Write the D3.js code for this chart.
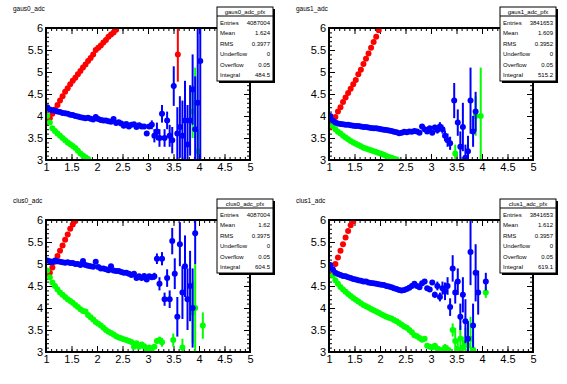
<!DOCTYPE html>
<html>
<head>
<meta charset="utf-8">
<script src="https://cdn.jsdelivr.net/npm/d3@7"></script>
<style>
  body { margin: 0; background: #fff; }
  text { font-family: "Liberation Sans", Arial, sans-serif; }
</style>
</head>
<body>
<div id="chart"></div>
<script>
const width = 567;
const height = 384;

// [x, y, err]
const gaus0Red = [[1.025,3.85],[1.075,3.95],[1.125,4.05],[1.175,4.15],[1.225,4.25],[1.275,4.35],[1.325,4.45],[1.375,4.55],[1.425,4.63],[1.475,4.72],[1.525,4.8],[1.575,4.87],[1.625,4.95],[1.675,5.02],[1.725,5.1],[1.775,5.17],[1.825,5.25],[1.875,5.32],[1.925,5.4],[1.975,5.5],[2.025,5.55],[2.075,5.6],[2.125,5.67],[2.175,5.73],[2.225,5.8],[2.275,5.85],[2.325,5.9],[2.375,5.96],[3.585,5.4,0.62]];
const gaus0Green = [[1.025,4.0],[1.075,3.85],[1.125,3.72],[1.175,3.66],[1.225,3.6],[1.275,3.55],[1.325,3.5],[1.375,3.45],[1.425,3.4],[1.475,3.36],[1.525,3.32],[1.575,3.27],[1.625,3.21],[1.675,3.15],[1.725,3.1],[1.775,3.06],[1.825,3.02],[3.875,4.1,0.6],[3.925,4.3,0.8],[3.975,3.2,0.5]];
const gaus0Blue = [[1.025,4.2],[1.075,4.15],[1.125,4.13],[1.175,4.12],[1.225,4.1],[1.275,4.09],[1.325,4.07],[1.375,4.06],[1.425,4.05],[1.475,4.03],[1.525,4.02],[1.575,4.0],[1.625,3.99],[1.675,3.97],[1.725,3.96],[1.775,3.95],[1.825,3.96],[1.875,3.94],[1.925,3.92],[1.975,3.98],[2.025,3.93],[2.075,3.91],[2.125,3.9],[2.175,3.9],[2.225,3.88],[2.275,3.87],[2.325,3.93],[2.375,3.84],[2.425,3.86],[2.475,3.83],[2.525,3.78],[2.575,3.82],[2.625,3.76],[2.675,3.8],[2.725,3.81],[2.775,3.75],[2.825,3.79],[2.875,3.76],[2.925,3.76],[2.975,3.6,0.04],[3.025,3.76,0.05],[3.075,3.8,0.1],[3.125,3.55,0.15],[3.175,3.65,0.2],[3.225,3.5,0.2],[3.275,4.05,0.2],[3.325,3.5,0.2],[3.375,3.9,0.2],[3.425,3.55,0.25],[3.475,3.45,0.3],[3.505,4.68,0.45],[3.575,3.6,0.6],[3.625,3.75,0.7],[3.675,3.55,0.8],[3.725,3.9,0.9],[3.775,3.35,0.9],[3.825,3.9,0.8],[3.875,4.6,0.8],[3.925,3.7,1.2],[3.975,4.3,2.0],[4.025,5.25,2.5]];

const gaus1Red = [[1.025,3.75],[1.075,3.85],[1.125,3.98],[1.175,4.1],[1.225,4.2],[1.275,4.32],[1.325,4.42],[1.375,4.52],[1.425,4.62],[1.475,4.72],[1.525,4.82],[1.575,4.95],[1.625,5.05],[1.675,5.18],[1.725,5.3],[1.775,5.42],[1.825,5.55],[1.875,5.68],[1.925,5.8],[1.975,5.95]];
const gaus1Green = [[1.025,3.9],[1.075,3.77],[1.125,3.7],[1.175,3.64],[1.225,3.6],[1.275,3.55],[1.325,3.51],[1.375,3.47],[1.425,3.43],[1.475,3.4],[1.525,3.37],[1.575,3.34],[1.625,3.31],[1.675,3.28],[1.725,3.26],[1.775,3.24],[1.825,3.22],[1.875,3.2],[1.925,3.18],[1.975,3.16],[2.025,3.14],[2.075,3.12],[2.125,3.09],[2.175,3.07],[2.225,3.05],[2.275,3.03],[2.325,3.01],[3.475,3.15,0.2],[3.875,4.0,0.45],[3.975,4.0,1.1]];
const gaus1Blue = [[1.025,4.0],[1.075,3.9],[1.125,3.85],[1.175,3.83],[1.225,3.82],[1.275,3.81],[1.325,3.8],[1.375,3.8],[1.425,3.79],[1.475,3.78],[1.525,3.77],[1.575,3.77],[1.625,3.76],[1.675,3.75],[1.725,3.75],[1.775,3.74],[1.825,3.73],[1.875,3.72],[1.925,3.72],[1.975,3.71],[2.025,3.7],[2.075,3.69],[2.125,3.68],[2.175,3.67],[2.225,3.66],[2.275,3.64],[2.325,3.63],[2.375,3.61],[2.425,3.62],[2.475,3.64],[2.525,3.63],[2.575,3.65],[2.625,3.64],[2.675,3.66],[2.725,3.65],[2.775,3.62],[2.825,3.76],[2.875,3.7],[2.925,3.65],[2.975,3.72,0.04],[3.025,3.62,0.05],[3.075,3.74,0.06],[3.125,3.68,0.08],[3.175,3.76,0.1],[3.225,3.7,0.1],[3.275,3.55,0.12],[3.325,3.45,0.15],[3.375,3.38,0.15],[3.455,4.35,0.4],[3.525,3.85,0.3],[3.575,3.3,0.35],[3.625,3.75,0.55],[3.675,3.05,0.3],[3.725,3.2,0.35],[3.775,4.35,0.75],[3.825,3.65,0.35],[3.875,4.1,0.45]];

const clus0Red = [[1.025,4.7],[1.075,4.8],[1.125,4.92],[1.175,5.05],[1.225,5.18],[1.275,5.3],[1.325,5.42],[1.375,5.55],[1.425,5.67],[1.475,5.8],[1.525,5.9],[1.575,5.98]];
const clus0Green = [[1.025,4.85],[1.075,4.7],[1.125,4.58],[1.175,4.5],[1.225,4.42],[1.275,4.35],[1.325,4.3],[1.375,4.25],[1.425,4.2],[1.475,4.16],[1.525,4.12],[1.575,4.07],[1.625,4.02],[1.675,3.97],[1.725,3.93],[1.775,3.92],[1.825,3.84],[1.875,3.79],[1.925,3.74],[1.975,3.68],[2.025,3.64],[2.075,3.6],[2.125,3.55],[2.175,3.5],[2.225,3.46],[2.275,3.43],[2.325,3.4],[2.375,3.36],[2.425,3.33],[2.475,3.31],[2.525,3.29],[2.575,3.27],[2.625,3.25],[2.675,3.23],[2.725,3.12],[2.775,3.2],[2.825,3.12],[2.875,3.17],[2.925,3.13],[2.975,3.04],[3.025,3.1],[3.075,3.08],[3.125,3.12],[3.175,3.25,0.06],[3.225,3.27,0.08],[3.275,3.22,0.1],[3.495,3.27,0.15],[3.675,3.1,0.2],[3.875,3.9,0.7],[3.925,4.0,1.0],[4.075,3.6,0.3]];
const clus0Blue = [[1.025,5.08],[1.075,5.06],[1.125,5.04],[1.175,5.08],[1.225,5.06],[1.275,5.05],[1.325,5.04],[1.375,5.03],[1.425,5.04],[1.475,5.02],[1.525,5.02],[1.575,5.0],[1.625,5.0],[1.675,4.98],[1.725,5.07],[1.775,4.98],[1.825,4.96],[1.875,4.95],[1.925,4.94],[1.975,5.05],[2.025,4.93],[2.075,4.9],[2.125,4.9],[2.175,4.88],[2.225,4.86],[2.275,4.95],[2.325,4.85],[2.375,4.84],[2.425,4.84],[2.475,4.82],[2.525,4.8],[2.575,4.8],[2.625,4.78],[2.675,4.75],[2.725,4.78],[2.775,4.68],[2.825,4.72],[2.875,4.68],[2.925,4.73],[2.975,4.65,0.04],[3.025,4.72,0.05],[3.075,4.7,0.06],[3.125,4.72,0.08],[3.175,5.12,0.12],[3.225,4.55,0.15],[3.275,5.12,0.15],[3.325,4.2,0.15],[3.375,4.68,0.2],[3.425,4.2,0.2],[3.475,5.52,0.3],[3.525,4.78,0.35],[3.575,3.8,0.45],[3.625,5.45,0.5],[3.675,4.35,0.6],[3.725,4.95,0.7],[3.775,4.2,0.7],[3.825,4.5,0.8],[3.875,4.0,0.9],[3.925,5.7,0.7]];

const clus1Red = [[1.025,4.75],[1.075,4.85],[1.125,5.0],[1.175,5.15],[1.225,5.3],[1.275,5.45],[1.325,5.6],[1.375,5.75],[1.425,5.88],[1.475,5.97]];
const clus1Green = [[1.025,4.9],[1.075,4.74],[1.125,4.63],[1.175,4.55],[1.225,4.48],[1.275,4.42],[1.325,4.37],[1.375,4.32],[1.425,4.27],[1.475,4.23],[1.525,4.19],[1.575,4.15],[1.625,4.11],[1.675,4.07],[1.725,4.04],[1.775,4.01],[1.825,3.98],[1.875,3.95],[1.925,3.92],[1.975,3.89],[2.025,3.86],[2.075,3.83],[2.125,3.8],[2.175,3.78],[2.225,3.76],[2.275,3.73],[2.325,3.7],[2.375,3.66],[2.425,3.62],[2.475,3.58],[2.525,3.55],[2.575,3.5],[2.625,3.45],[2.675,3.38],[2.725,3.36],[2.775,3.32],[2.825,3.28],[2.875,3.3],[2.925,3.14],[2.975,3.12],[3.025,3.1],[3.075,3.14],[3.125,3.08],[3.175,3.05],[3.225,3.03,0.05],[3.275,3.1,0.08],[3.325,3.05,0.1],[3.375,3.0,0.1],[3.425,3.5,0.15],[3.475,3.25,0.3],[3.525,3.05,0.25],[3.575,3.3,0.3],[3.625,3.1,0.25],[3.675,3.2,0.35],[3.725,3.15,0.2],[3.775,3.3,0.5],[3.825,3.05,0.2],[4.075,4.35,0.12]];
const clus1Blue = [[1.025,4.98],[1.075,4.88],[1.125,4.8],[1.175,4.77],[1.225,4.75],[1.275,4.73],[1.325,4.72],[1.375,4.7],[1.425,4.68],[1.475,4.66],[1.525,4.65],[1.575,4.63],[1.625,4.62],[1.675,4.6],[1.725,4.6],[1.775,4.58],[1.825,4.57],[1.875,4.56],[1.925,4.55],[1.975,4.54],[2.025,4.53],[2.075,4.52],[2.125,4.5],[2.175,4.49],[2.225,4.47],[2.275,4.45],[2.325,4.43],[2.375,4.41],[2.425,4.4],[2.475,4.41],[2.525,4.43],[2.575,4.46],[2.625,4.5],[2.675,4.55],[2.725,4.5],[2.775,4.47],[2.825,4.56],[2.875,4.6],[2.925,4.45],[2.975,4.42,0.04],[3.025,4.58,0.05],[3.075,4.3,0.07],[3.125,4.5,0.1],[3.175,4.25,0.1],[3.225,4.45,0.15],[3.275,4.38,0.2],[3.325,4.5,0.2],[3.375,4.02,0.2],[3.425,4.9,0.3],[3.475,4.35,0.25],[3.525,4.6,0.3],[3.575,3.8,0.3],[3.625,4.3,0.4],[3.675,3.7,0.5],[3.725,3.3,0.4],[3.775,5.27,0.75],[3.825,3.6,0.5],[3.875,4.8,0.65],[3.925,4.35,0.5],[4.075,4.6,0.2]];

const statLabels = ["Entries", "Mean", "RMS", "Underflow", "Overflow", "Integral"];
const gaus0Stats = ["4087004", "1.624", "0.3977", "0", "0.05", "484.5"];
const gaus1Stats = ["3841653", "1.609", "0.3952", "0", "0.05", "515.2"];
const clus0Stats = ["4087004", "1.62", "0.3975", "0", "0.05", "604.5"];
const clus1Stats = ["3841653", "1.612", "0.3957", "0", "0.05", "619.1"];

const xTicks = [1, 1.5, 2, 2.5, 3, 3.5, 4, 4.5, 5];
const yTicks = [3, 3.5, 4, 4.5, 5, 5.5, 6];

const panels = [
  { name: "gaus0_adc", ox: 0, oy: 0, red: gaus0Red, green: gaus0Green, blue: gaus0Blue, stats: gaus0Stats },
  { name: "gaus1_adc", ox: 283, oy: 0, red: gaus1Red, green: gaus1Green, blue: gaus1Blue, stats: gaus1Stats },
  { name: "clus0_adc", ox: 0, oy: 192, red: clus0Red, green: clus0Green, blue: clus0Blue, stats: clus0Stats },
  { name: "clus1_adc", ox: 283, oy: 192, red: clus1Red, green: clus1Green, blue: clus1Blue, stats: clus1Stats },
];

const svg = d3
  .select("#chart")
  .append("svg")
  .attr("width", width)
  .attr("height", height);

panels.forEach((p, i) => {
  const x = d3.scaleLinear().domain([1, 5]).range([p.ox + 46, p.ox + 250]);
  const y = d3.scaleLinear().domain([3, 6]).range([p.oy + 160, p.oy + 28]);
  const g = svg.append("g");

  // title
  g.append("text")
    .attr("x", p.ox + 13)
    .attr("y", p.oy + 11)
    .attr("font-size", 6.5)
    .text(p.name);

  const clipId = "clip" + i;
  svg.append("clipPath").attr("id", clipId)
    .append("rect")
    .attr("x", x(1)).attr("y", y(6))
    .attr("width", x(5) - x(1)).attr("height", y(3) - y(6));

  // minor + major ticks on all four sides (ROOT style, inward)
  const minorX = d3.range(10, 51).map((d) => d / 10);
  const minorY = d3.range(30, 61).map((d) => d / 10);
  const axes = [
    [d3.axisBottom(x), `translate(0,${y(3)})`, minorX, xTicks, true],
    [d3.axisTop(x), `translate(0,${y(6)})`, minorX, xTicks, false],
    [d3.axisLeft(y), `translate(${x(1)},0)`, minorY, yTicks, true],
    [d3.axisRight(y), `translate(${x(5)},0)`, minorY, yTicks, false],
  ];
  axes.forEach(([ax, tr, minor, major, labels], k) => {
    const minorAxis = ax.scale().copy();
    const mk = (k === 0 ? d3.axisBottom : k === 1 ? d3.axisTop : k === 2 ? d3.axisLeft : d3.axisRight);
    g.append("g").attr("transform", tr)
      .call(mk(minorAxis).tickValues(minor).tickSize(-3).tickFormat(""))
      .call((s) => s.select(".domain").remove());
    const a = g.append("g").attr("transform", tr)
      .call(mk(minorAxis).tickValues(major).tickSize(-6).tickPadding(k === 0 ? 3 : 3)
        .tickFormat(labels ? d3.format("") : ""))
      .call((s) => s.select(".domain").remove());
    a.selectAll("text").attr("font-size", 11).attr("fill", "#000")
      .attr("font-family", "Liberation Sans, Arial, sans-serif");
    g.selectAll(".tick line").attr("stroke", "#000").attr("stroke-width", 1);
  });

  const plot = g.append("g").attr("clip-path", `url(#${clipId})`);
  [[p.red, "#ff0000"], [p.green, "#00ff00"], [p.blue, "#0000ff"]].forEach(([data, col]) => {
    plot.append("g").selectAll("line")
      .data(data.filter((d) => d[2]))
      .join("line")
      .attr("x1", (d) => x(d[0])).attr("x2", (d) => x(d[0]))
      .attr("y1", (d) => y(d[1] - d[2])).attr("y2", (d) => y(d[1] + d[2]))
      .attr("stroke", col).attr("stroke-width", 2);
    plot.append("g").selectAll("circle")
      .data(data)
      .join("circle")
      .attr("cx", (d) => x(d[0])).attr("cy", (d) => y(d[1]))
      .attr("r", 3)
      .attr("fill", col);
  });

  // frame
  g.append("rect")
    .attr("x", x(1)).attr("y", y(6))
    .attr("width", x(5) - x(1)).attr("height", y(3) - y(6))
    .attr("fill", "none").attr("stroke", "#000").attr("stroke-width", 2);

  // stats box
  const bx = p.ox + 217, by = p.oy + 7, bw = 56, bh = 74;
  g.append("rect").attr("x", bx + 2).attr("y", by + 2).attr("width", bw).attr("height", bh).attr("fill", "#000");
  g.append("rect").attr("x", bx).attr("y", by).attr("width", bw).attr("height", bh)
    .attr("fill", "#fff").attr("stroke", "#000").attr("stroke-width", 1);
  g.append("line").attr("x1", bx).attr("x2", bx + bw).attr("y1", by + 9).attr("y2", by + 9)
    .attr("stroke", "#000");
  g.append("text").attr("x", bx + bw / 2).attr("y", by + 7).attr("text-anchor", "middle")
    .attr("font-size", 6).text(p.name + "_pfx");
  statLabels.forEach((lab, j) => {
    const ty = by + 18 + j * 10.4;
    g.append("text").attr("x", bx + 3).attr("y", ty).attr("font-size", 6).text(lab);
    g.append("text").attr("x", bx + bw - 3).attr("y", ty).attr("font-size", 6)
      .attr("text-anchor", "end").text(p.stats[j]);
  });
});
</script>
</body>
</html>
